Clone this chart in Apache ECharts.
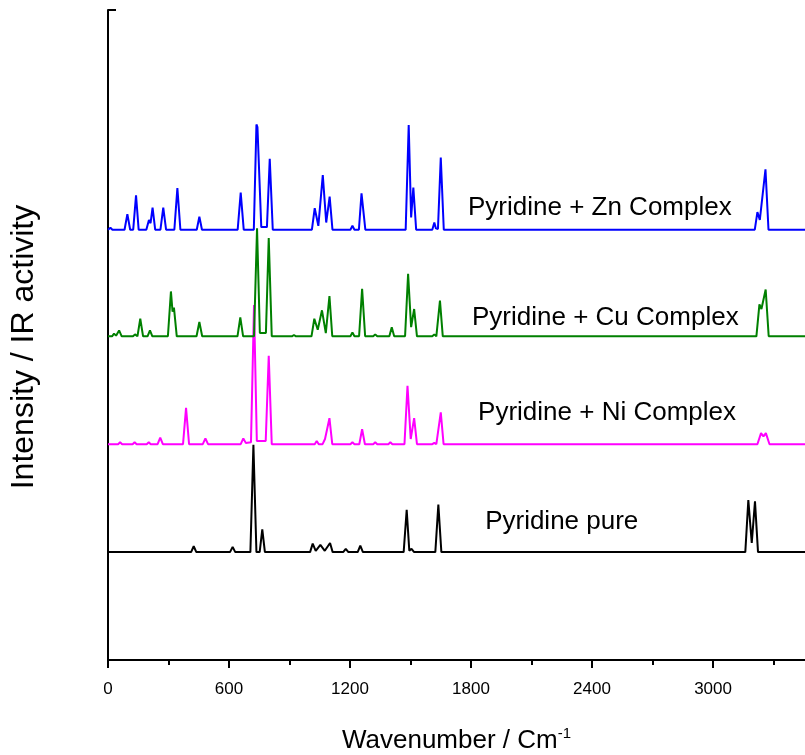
<!DOCTYPE html>
<html>
<head>
<meta charset="utf-8">
<script src="https://cdn.jsdelivr.net/npm/echarts@6/dist/echarts.min.js"></script>
<style>
html,body{margin:0;padding:0;background:#fff;}
#chart{width:805px;height:755px;}
</style>
</head>
<body>
<div id="chart"></div>
<script>
// Spectra: [wavenumber, intensity above own baseline]
const pureData = [[0,0],[412,0],[425,0.9],[438,0],[605,0],[618,0.8],[631,0],[706,0],[721,16.5],[736,0],[752,0],[765,3.5],[778,0],[1002,0],[1015,1.3],[1030,0.2],[1053,1.1],[1075,0.2],[1101,1.4],[1114,0],[1166,0],[1179,0.5],[1192,0],[1238,0],[1251,1.0],[1264,0],[1466,0],[1481,6.5],[1494,0.2],[1505,0.5],[1518,0],[1623,0],[1638,7.3],[1653,0],[3160,0],[3175,8.0],[3192,1.4],[3208,7.8],[3223,0],[3456,0]];

const niData = [[0,0],[50,0],[60,0.3],[70,0],[122,0],[132,0.3],[142,0],[192,0],[202,0.3],[212,0],[246,0],[259,1.0],[272,0],[372,0],[387,5.6],[402,0],[470,0],[483,0.9],[496,0],[658,0],[671,0.9],[683,0.2],[709,0.3],[724,21.4],[738,0.5],[782,0.5],[797,13.6],[812,0],[1025,0],[1035,0.5],[1045,0],[1064,0],[1076,0.8],[1084,0.7],[1098,4.0],[1112,0],[1202,0],[1212,0.3],[1222,0],[1246,0],[1260,2.3],[1274,0],[1315,0],[1325,0.3],[1335,0],[1390,0],[1400,0.3],[1410,0],[1470,0],[1485,9.0],[1501,0.8],[1518,4.0],[1532,0],[1608,0],[1618,0.2],[1628,0],[1636,0],[1650,4.9],[1664,0],[3220,0],[3238,1.7],[3250,1.2],[3262,1.7],[3280,0],[3456,0]];

const cuData = [[0,0],[20,0],[30,0.4],[40,0.1],[55,0.9],[68,0],[124,0],[134,0.3],[146,0],[148,0.2],[160,2.7],[174,0],[196,0],[208,0.9],[220,0],[297,0],[312,6.9],[320,3.8],[327,4.4],[341,0],[439,0],[453,2.2],[467,0],[642,0],[656,2.9],[670,0],[724,0],[739,16.6],[753,0.5],[783,0.5],[797,15.1],[812,0],[912,0],[922,0.2],[932,0],[1009,0],[1023,2.7],[1040,1.0],[1061,4.0],[1080,0.5],[1098,6.2],[1112,0],[1202,0],[1212,0.6],[1222,0],[1245,0],[1260,7.3],[1275,0],[1315,0],[1325,0.3],[1335,0],[1395,0],[1407,1.4],[1419,0],[1473,0],[1488,9.6],[1503,1.4],[1518,4.2],[1532,0],[1608,0],[1618,0.3],[1628,0],[1632,0],[1646,5.5],[1660,0],[3215,0],[3230,4.9],[3240,4.2],[3261,7.2],[3276,0],[3456,0]];

const znData = [[0,0],[12,0.3],[22,0],[30,0.2],[40,0],[82,0],[96,2.4],[110,0],[125,0],[139,5.3],[152,0],[190,0],[203,1.5],[211,1.0],[221,3.4],[234,0],[260,0],[274,3.4],[288,0],[329,0],[344,6.4],[359,0],[440,0],[453,2.0],[466,0],[643,0],[658,5.7],[673,0],[723,0],[736,16.2],[741,15.8],[746,16.0],[760,0.4],[788,0.4],[802,10.9],[817,0],[1011,0],[1025,3.3],[1043,0.6],[1065,8.4],[1082,1.1],[1099,5.1],[1113,0],[1202,0],[1212,0.6],[1222,0],[1244,0],[1257,5.6],[1263,5.4],[1276,0],[1476,0],[1491,16.1],[1503,1.9],[1514,6.5],[1528,0],[1608,0],[1618,1.1],[1626,0.2],[1636,0.1],[1650,11.1],[1665,0],[3207,0],[3220,2.7],[3232,1.5],[3260,9.3],[3275,0],[3456,0]];

const seriesNames = ['Pyridine pure', 'Pyridine + Ni Complex', 'Pyridine + Cu Complex', 'Pyridine + Zn Complex'];
const offsets = [16.6, 33.2, 49.8, 66.2];
const labelAnchors = [[1870, 21.2], [1835, 38.0], [1805, 52.6], [1785, 69.5]];
const xMajorTicks = [0, 600, 1200, 1800, 2400, 3000];
const xMinorTicks = [300, 900, 1500, 2100, 2700, 3300];

const spectra = [pureData, niData, cuData, znData];
const colors = ['#000000', '#ff00ff', '#008000', '#0000ff'];
const FONT = "'Liberation Sans', Arial, sans-serif";

const chart = echarts.init(document.getElementById('chart'), null, {renderer: 'canvas'});

const drawOrder = [3, 2, 1, 0];
const series = drawOrder.map(i => ({
  name: seriesNames[i],
  type: 'line',
  xAxisIndex: 0, yAxisIndex: 0,
  data: spectra[i].map(p => [p[0], p[1] + offsets[i]]),
  showSymbol: false,
  symbol: 'none',
  smooth: false,
  lineStyle: {color: colors[i], width: 2},
  z: 2 + i,
  animation: false
}));

const X_MAX = 3456;

chart.setOption({
  animation: false,
  backgroundColor: '#fff',
  grid: {left: 108, right: 0, top: 10, bottom: 95, containLabel: false, outerBoundsMode: 'none'},
  xAxis: [{
    type: 'value', min: 0, max: X_MAX, interval: 600,
    axisLine: {show: true, onZero: false, lineStyle: {color: '#000', width: 2}},
    axisTick: {show: true, inside: false, length: 8, customValues: xMajorTicks, lineStyle: {color: '#000', width: 2}},
    splitLine: {show: false},
    axisLabel: {
      color: '#000', fontSize: 17, fontFamily: FONT, margin: 21,
      customValues: xMajorTicks,
      formatter: v => String(v)
    },
    name: '{a|Wavenumber / Cm}{b|-1}',
    nameLocation: 'middle', nameGap: 66,
    nameTextStyle: {
      color: '#000', fontFamily: FONT,
      rich: {
        a: {fontSize: 26, fontFamily: FONT, color: '#000', lineHeight: 30},
        b: {fontSize: 15, fontFamily: FONT, color: '#000', lineHeight: 30, verticalAlign: 'top'}
      }
    }
  }, {
    type: 'value', min: 0, max: X_MAX, position: 'bottom', offset: 0,
    axisLine: {show: false, onZero: false},
    axisTick: {show: true, inside: false, length: 5, customValues: xMinorTicks, lineStyle: {color: '#000', width: 2}},
    axisLabel: {show: false},
    splitLine: {show: false}
  }],
  yAxis: {
    type: 'value', min: 0, max: 100, interval: 100,
    axisLine: {show: true, lineStyle: {color: '#000', width: 2}},
    axisTick: {show: true, inside: true, length: 8, lineStyle: {color: '#000', width: 2}},
    axisLabel: {show: false},
    splitLine: {show: false},
    name: 'Intensity / IR activity',
    nameLocation: 'middle', nameGap: 68,
    nameTextStyle: {color: '#000', fontSize: 32, fontFamily: FONT, padding: [0, 24, 0, 0]}
  },
  series: series
});

const graphics = labelAnchors.map((a, i) => {
  const p = chart.convertToPixel({xAxisIndex: 0, yAxisIndex: 0}, a);
  return {
    type: 'text', x: p[0], y: p[1], z: 100,
    style: {text: seriesNames[i], fill: '#000', font: '26px ' + FONT, textVerticalAlign: 'middle', textAlign: 'left'}
  };
});
chart.setOption({graphic: graphics});
</script>
</body>
</html>
